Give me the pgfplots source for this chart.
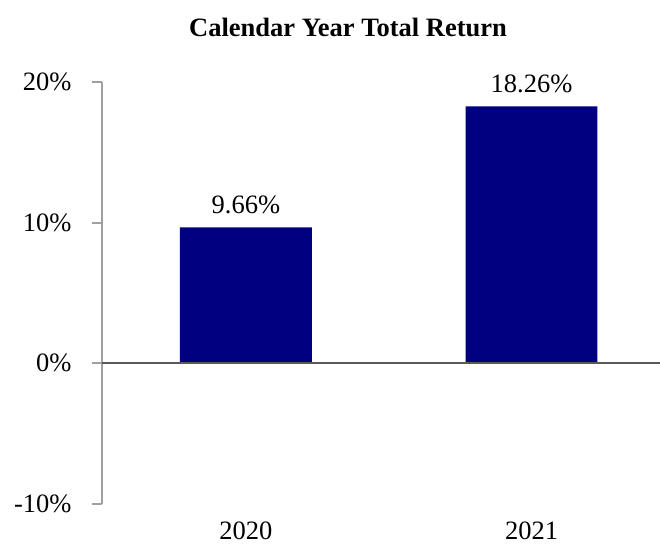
\documentclass[border=0pt]{standalone}
\usepackage{fontspec}
\setmainfont{Liberation Serif}
\usepackage{pgfplots}
\pgfplotsset{compat=1.18}
\definecolor{barnavy}{HTML}{000080}
\definecolor{zeroline}{HTML}{595959}
\definecolor{yline}{HTML}{A0A0A0}
\begin{document}
\begin{tikzpicture}[x=1pt,y=1pt]
\useasboundingbox (0,0) rectangle (660,544);
\node[font=\fontsize{26.5}{30}\selectfont\bfseries] at (348,517) {Calendar Year Total Return};
\begin{axis}[
  at={(102pt,40pt)},
  anchor=south west,
  scale only axis, width=558pt, height=422pt,
  xmin=-0.504, xmax=1.45,
  ymin=-10, ymax=20,
  axis x line=bottom, axis y line=left,
  x axis line style={draw=none, -},
  y axis line style={draw=yline, line width=1.8pt, -},
  xtick={0,1}, xticklabels={2020,2021},
  xtick style={draw=none},
  ytick={-10,0,10,20},
  yticklabels={-10\%,0\%,10\%,20\%},
  ytick style={draw=yline, line width=1.8pt},
  tick align=outside, major tick length=10pt,
  tick label style={font=\fontsize{26.5}{30}\selectfont},
  /pgf/number format/assume math mode=true,
  y tick label style={xshift=-17pt},
  x tick label style={yshift=-4pt},
  clip=false,
]
\addplot[ybar, bar width=0.462, fill=barnavy, draw=none,
  nodes near coords={\pgfmathprintnumber[fixed,precision=2,fixed zerofill]{\pgfplotspointmeta}\%},
  every node near coord/.append style={font=\fontsize{26.5}{30}\selectfont, yshift=10pt}]
  coordinates {(0,9.66) (1,18.26)};
\draw[zeroline, line width=2pt] (axis cs:-0.504,0) -- (axis cs:1.45,0);
\end{axis}
\end{tikzpicture}
\end{document}
